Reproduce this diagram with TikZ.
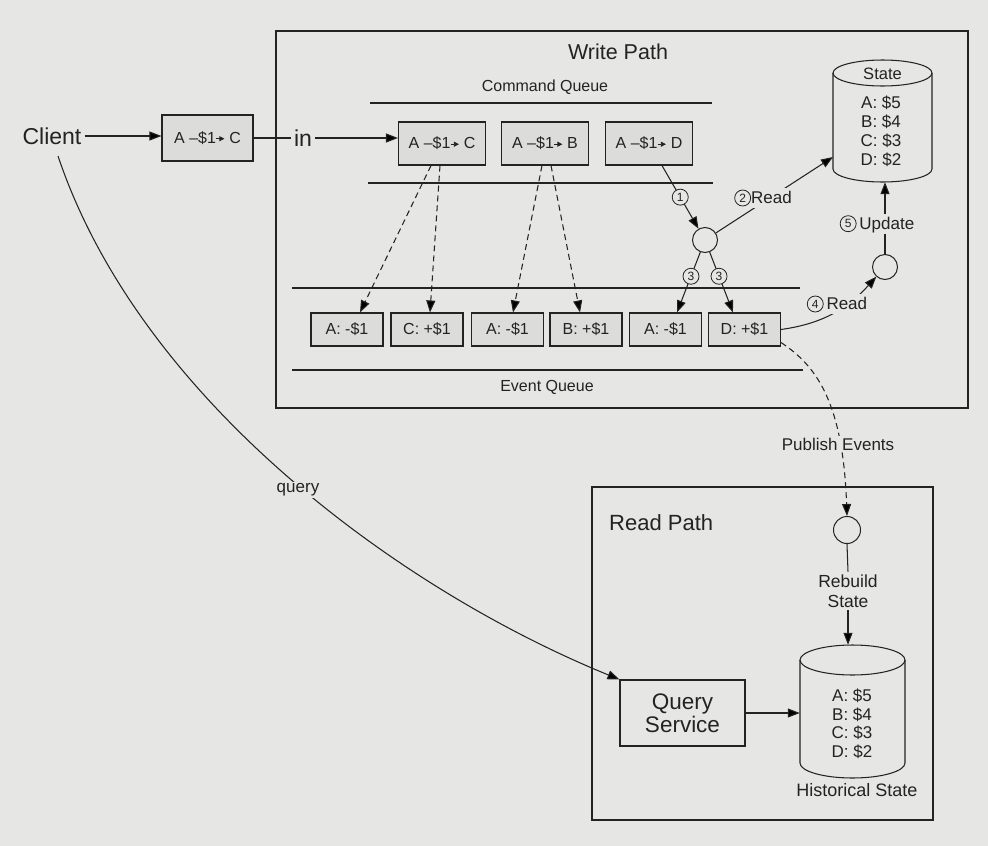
\documentclass[tikz,border=0pt]{standalone}
\usepackage{fontspec}
\setmainfont{Liberation Sans}
\usetikzlibrary{arrows.meta,calc}
\definecolor{bg}{RGB}{230,231,228}
\definecolor{boxbg}{RGB}{220,221,218}
\definecolor{ink}{RGB}{35,35,35}
\newcommand\myfs[1]{\fontsize{#1pt}{#1pt}\selectfont}
\newcommand\smallarr{\tikz[baseline=-0.55ex,x=1pt,y=1pt]\draw[ink,line width=0.8pt,-{Triangle[length=5pt,width=5pt]}] (0,0) -- (8,0);}
\newcommand\cn[1]{\tikz[baseline=-5.5pt,x=1pt,y=1pt]\node[circle,draw=ink,line width=0.8pt,fill=bg,inner sep=0pt,minimum size=16pt,text=ink,font=\myfs{12}] at (0,0) {#1};}
\newcommand\drawcyl[5]{%
  \draw[line] ({#1-#4},{#2+#5}) -- ({#1-#4},{#3-#5}) arc[start angle=180,end angle=0,x radius=#4,y radius=#5] -- ({#1+#4},{#2+#5});
  \draw[line] (#1,{#2+#5}) ellipse[x radius=#4, y radius=#5];}
\begin{document}
\begin{tikzpicture}[x=1pt,y=-1pt,
  line/.style={draw=ink, line width=1.05pt},
  frame/.style={draw=ink, line width=1.2pt},
  arr/.style={line, -{Triangle[length=12pt,width=9pt]}},
  darr/.style={arr, dash pattern=on 6pt off 4pt},
  txt/.style={text=ink, inner sep=3pt},
  cmdbox/.style={draw=ink, line width=1.1pt, fill=boxbg, minimum width=87pt, minimum height=43pt, inner sep=0pt, text=ink, font=\myfs{16}},
  evbox/.style={draw=ink, line width=1.1pt, fill=boxbg, minimum width=72pt, minimum height=33pt, inner sep=0pt, text=ink, font=\myfs{16}},
  lbl/.style={text=ink, fill=bg, inner sep=1.5pt, font=\myfs{17}},
  cnum/.style={circle, draw=ink, line width=0.8pt, fill=bg, inner sep=0pt, minimum size=16pt, text=ink, font=\myfs{12}},
  joint/.style={circle, draw=ink, line width=1pt, fill=bg, minimum size=25pt, inner sep=0pt},
  hold/.style={inner sep=0pt, minimum width=#1}
]
\useasboundingbox (0,0) rectangle (988,846);
\fill[bg] (0,0) rectangle (988,846);

% frames
\draw[frame] (276,31) rectangle (968,408);
\draw[frame] (592,487) rectangle (933,820);

% queue lines
\draw[line] (370,103) -- (712,103);
\draw[line] (368,183) -- (713,183);
\draw[line] (292,288) -- (800,288);
\draw[line] (292,370) -- (803,370);

% titles
\node[txt, font=\myfs{21.5}] (wptitle) at (618,52) {Write Path};
\node[txt, font=\myfs{16}] (cqtitle) at (545,87) {Command Queue};
\node[txt, font=\myfs{16}] (eqtitle) at (547,387) {Event Queue};
\node[txt, font=\myfs{22}, anchor=west] (rptitle) at (606,523) {Read Path};

% client side
\node[txt, font=\myfs{23}] (client) at (52,136) {Client};
\node[cmdbox, minimum width=91pt, minimum height=46pt] (cbox) at (207.5,138) {A \textendash\$1\smallarr\ C};
\node[txt, font=\myfs{23}] (in) at (303,138) {in};

% command queue
\node[cmdbox] (c1) at (442,143.5) {A \textendash\$1\smallarr\ C};
\node[cmdbox] (c2) at (545,143.5) {A \textendash\$1\smallarr\ B};
\node[cmdbox] (c3) at (649,143.5) {A \textendash\$1\smallarr\ D};

% event queue
\node[evbox] (e1) at (347,329.5) {A: -\$1};
\node[evbox] (e2) at (427,329.5) {C: +\$1};
\node[evbox] (e3) at (507.5,329.5) {A: -\$1};
\node[evbox] (e4) at (586,329.5) {B: +\$1};
\node[evbox] (e5) at (665.5,329.5) {A: -\$1};
\node[evbox] (e6) at (744.5,329.5) {D: +\$1};

% state cylinder
\node[hold=99pt, minimum height=122pt] (state) at (882.5,121) {};
\drawcyl{882.5}{60}{182}{49.5}{13}
\node[txt, font=\myfs{16.5}] (statet) at (882.5,74) {State};
\node[txt, font=\myfs{17}, align=center] (statev) at (881,131.5) {A: \$5\\[2pt]B: \$4\\[2pt]C: \$3\\[2pt]D: \$2};

% joints
\node[joint] (w1) at (705,240) {};
\node[joint] (w2) at (885,267) {};
\node[joint, minimum size=27pt] (r1) at (847,530) {};

% read path
\node[draw=ink, line width=1.1pt, minimum width=125pt, minimum height=66pt, inner sep=0pt, text=ink, font=\myfs{22.5}, align=center] (qs) at (682.5,713) {Query\\[1pt]Service};
\node[hold=105pt, minimum height=133pt] (hist) at (852.5,711.5) {};
\drawcyl{852.5}{645}{778}{52.5}{15}
\node[txt, font=\myfs{17}, align=center] (histv) at (852,724) {A: \$5\\[1.5pt]B: \$4\\[1.5pt]C: \$3\\[1.5pt]D: \$2};
\node[txt, font=\myfs{18}] (histt) at (857,790) {Historical State};
\node[txt, font=\myfs{17.5}, align=center] (rebuild) at (848,591) {Rebuild\\[2pt]State};

% connectors: client
\draw[arr] (client.east) -- (client.east -| cbox.west);
\draw[line] (cbox.east) -- (cbox.east -| in.west);
\draw[arr] (in.east) -- (in.east -| c1.west);

% dashed command -> event
\draw[darr] ([xshift=-11pt]c1.south) -- ([xshift=13pt]e1.north);
\draw[darr] ([xshift=-2pt]c1.south) -- ([xshift=3pt]e2.north);
\draw[darr] ([xshift=-3pt]c2.south) -- ([xshift=5.5pt]e3.north);
\draw[darr] ([xshift=6pt]c2.south) -- ([xshift=-6pt]e4.north);

% processing
\draw[arr] ([xshift=13pt]c3.south) -- (w1) node[cnum, pos=0.5] {1};
\draw[arr] (w1) -- ([xshift=11.5pt]e5.north) node[cnum, pos=0.4] {3};
\draw[arr] (w1) -- ([xshift=-11.5pt]e6.north) node[cnum, pos=0.4] {3};
\coordinate (stL) at (833,157);
\draw[arr] (w1) -- (stL);
\draw[arr] (e6.east) to[out=8, in=228] (w2);
\draw[arr] (w2.north) -- (w2.north |- state.south);
\node[lbl] (readtwo) at (763,198) {\cn{2}Read};
\node[lbl] (readfour) at (837,304) {\cn{4}\,Read};
\node[lbl] (update) at (877,224) {\cn{5}\,Update};

% publish
\draw[darr] ([yshift=4pt]e6.south east) .. controls (815,365) and (843,400) .. (r1.north);
\node[lbl] (publish) at (838,444) {Publish Events};

% read path connectors
\draw[line] (r1.south) -- (rebuild.north);
\draw[arr] (rebuild.south) -- (rebuild.south |- hist.north);
\draw[arr] (qs.east) -- (qs.east -| hist.west);

% query
\coordinate (qstart) at (58,156);
\draw[arr] (qstart) .. controls (140,400) and (400,590) .. (qs.north west);
\node[lbl] (query) at (298,490) {query};
\end{tikzpicture}
\end{document}
